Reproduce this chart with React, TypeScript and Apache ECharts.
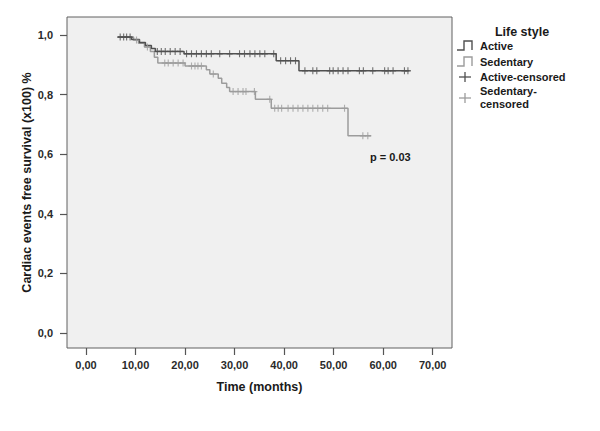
import React, { useEffect, useRef } from "react";
import * as echarts from "echarts";

// Kaplan-Meier step data (time in months, survival)
const activeTimes = [6.4, 9.2, 10.8, 12.0, 13.2, 14.0, 19.8, 38.4, 43.0, 65.3];
const activeSurv = [0.993, 0.985, 0.975, 0.965, 0.955, 0.945, 0.937, 0.914, 0.88, 0.88];
const activeCensored = [
  6.9, 7.6, 8.2, 8.9, 14.4, 15.2, 16.0, 17.0, 18.0, 19.0, 20.3, 21.3, 22.3, 23.3, 24.3, 25.3,
  27.0, 29.0, 31.0, 32.0, 33.1, 34.1, 35.1, 36.1, 37.9, 39.3, 40.3, 41.3, 42.3, 44.2, 45.8,
  46.6, 49.2, 49.9, 50.9, 51.9, 52.9, 55.2, 56.0, 57.9, 60.3, 61.0, 62.0, 64.3, 65.0,
];

const sedTimes = [6.4, 9.6, 10.6, 11.8, 13.0, 13.8, 14.5, 20.0, 24.3, 25.0, 26.7, 27.4, 28.4, 29.0, 34.2, 37.4, 52.9, 57.6];
const sedSurv = [0.993, 0.983, 0.972, 0.96, 0.945, 0.925, 0.906, 0.896, 0.883, 0.869, 0.855, 0.838, 0.824, 0.81, 0.784, 0.754, 0.662, 0.662];
const sedCensored = [
  10.2, 12.4, 15.9, 16.6, 17.6, 18.6, 19.6, 21.3, 22.0, 22.6, 23.3, 25.7, 29.7, 30.7, 31.7,
  32.3, 34.0, 37.1, 38.1, 38.8, 39.5, 40.8, 41.8, 42.8, 43.8, 44.8, 45.8, 46.8, 47.8, 48.8,
  52.2, 55.9, 56.9,
];

const xTicks = [0, 10, 20, 30, 40, 50, 60, 70];
const yTicks = [0, 0.2, 0.4, 0.6, 0.8, 1.0];

const DARK = "#505050";
const LIGHT = "#9c9c9c";
const FONT = "Liberation Sans, Arial, sans-serif";

function levelAt(times: number[], surv: number[], t: number) {
  let s = surv[0];
  for (let i = 0; i < times.length; i++) {
    if (times[i] <= t) s = surv[i];
  }
  return s;
}

const plus = "path://M5 0V10M0 5H10";

export default function App() {
  const ref = useRef<HTMLDivElement>(null);
  useEffect(() => {
    if (!ref.current) return;
    const chart = echarts.init(ref.current, null, { renderer: "svg" });
    const activeLine = activeTimes.map((t, i) => [t, activeSurv[i]]);
    const sedLine = sedTimes.map((t, i) => [t, sedSurv[i]]);
    const activeCens = activeCensored.map((t) => [t, levelAt(activeTimes, activeSurv, t)]);
    const sedCens = sedCensored.map((t) => [t, levelAt(sedTimes, sedSurv, t)]);

    const legendX = 457;
    const legendFont = `bold 11px ${FONT}`;
    chart.setOption({
      animation: false,
      backgroundColor: "#ffffff",
      textStyle: { fontFamily: FONT },
      grid: {
        left: 67,
        top: 17,
        right: 148,
        bottom: 83,
        show: true,
        backgroundColor: "#f0f0f0",
        borderColor: "#606060",
        borderWidth: 1,
      },
      xAxis: {
        type: "value",
        min: -3.84,
        max: 73.9,
        name: "Time (months)",
        nameLocation: "middle",
        nameGap: 32,
        nameMoveOverlap: false,
        nameTextStyle: { fontFamily: FONT, fontWeight: "bold", fontSize: 12.5, color: "#1a1a1a" },
        axisLine: { show: false, onZero: false },
        splitLine: { show: false },
        axisTick: {
          show: true,
          customValues: xTicks,
          length: 7,
          lineStyle: { color: "#555", width: 1.2 },
        },
        axisLabel: {
          customValues: xTicks,
          margin: 11,
          fontFamily: FONT,
          fontWeight: "bold",
          fontSize: 11,
          color: "#2a2a2a",
          formatter: (v: number) => v.toFixed(2).replace(".", ","),
        },
      },
      yAxis: {
        type: "value",
        min: -0.0503,
        max: 1.0604,
        name: "Cardiac events free survival (x100) %",
        nameLocation: "middle",
        nameGap: 34,
        nameMoveOverlap: false,
        nameTextStyle: { fontFamily: FONT, fontWeight: "bold", fontSize: 12.5, color: "#1a1a1a" },
        axisLine: { show: false, onZero: false },
        splitLine: { show: false },
        axisTick: {
          show: true,
          customValues: yTicks,
          length: 7,
          lineStyle: { color: "#555", width: 1.2 },
        },
        axisLabel: {
          customValues: yTicks,
          margin: 14,
          fontFamily: FONT,
          fontWeight: "bold",
          fontSize: 11,
          color: "#2a2a2a",
          formatter: (v: number) => v.toFixed(1).replace(".", ","),
        },
      },
      series: [
        {
          name: "Sedentary",
          type: "line",
          step: "end",
          data: sedLine,
          showSymbol: false,
          symbol: "none",
          lineStyle: { color: LIGHT, width: 1.5 },
          z: 2,
        },
        {
          name: "Active",
          type: "line",
          step: "end",
          data: activeLine,
          showSymbol: false,
          symbol: "none",
          lineStyle: { color: DARK, width: 1.5 },
          z: 3,
        },
        {
          name: "Sedentary-censored",
          type: "scatter",
          data: sedCens,
          symbol: plus,
          symbolSize: [6, 7],
          itemStyle: { color: "none", borderColor: LIGHT, borderWidth: 1.2 },
          z: 4,
        },
        {
          name: "Active-censored",
          type: "scatter",
          data: activeCens,
          symbol: plus,
          symbolSize: [6, 7],
          itemStyle: { color: "none", borderColor: DARK, borderWidth: 1.2 },
          z: 5,
        },
      ],
      graphic: [
        {
          type: "text",
          left: 370,
          top: 151,
          style: { text: "p = 0.03", font: `bold 11px ${FONT}`, fill: "#1a1a1a" },
        },
        {
          type: "text",
          x: 522,
          y: 32,
          style: {
            text: "Life style",
            font: `bold 12.5px ${FONT}`,
            fill: "#1a1a1a",
            align: "center",
            verticalAlign: "middle",
          },
        },
        {
          type: "polyline",
          shape: { points: [[legendX, 50], [legendX + 7, 50], [legendX + 7, 41], [legendX + 15, 41], [legendX + 15, 50]] },
          style: { stroke: DARK, lineWidth: 1.4, fill: "none" },
        },
        {
          type: "text",
          x: 480,
          y: 46,
          style: { text: "Active", font: legendFont, fill: "#1a1a1a", verticalAlign: "middle" },
        },
        {
          type: "polyline",
          shape: { points: [[legendX, 66], [legendX + 7, 66], [legendX + 7, 57], [legendX + 15, 57], [legendX + 15, 66]] },
          style: { stroke: LIGHT, lineWidth: 1.4, fill: "none" },
        },
        {
          type: "text",
          x: 480,
          y: 62,
          style: { text: "Sedentary", font: legendFont, fill: "#1a1a1a", verticalAlign: "middle" },
        },
        { type: "line", shape: { x1: 465, y1: 72, x2: 465, y2: 82 }, style: { stroke: DARK, lineWidth: 1.3 } },
        { type: "line", shape: { x1: 459, y1: 77, x2: 471, y2: 77 }, style: { stroke: DARK, lineWidth: 1.3 } },
        {
          type: "text",
          x: 480,
          y: 77,
          style: { text: "Active-censored", font: legendFont, fill: "#1a1a1a", verticalAlign: "middle" },
        },
        { type: "line", shape: { x1: 465, y1: 93, x2: 465, y2: 103 }, style: { stroke: LIGHT, lineWidth: 1.3 } },
        { type: "line", shape: { x1: 459, y1: 98, x2: 471, y2: 98 }, style: { stroke: LIGHT, lineWidth: 1.3 } },
        {
          type: "text",
          x: 480,
          y: 91,
          style: { text: "Sedentary-", font: legendFont, fill: "#1a1a1a", verticalAlign: "middle" },
        },
        {
          type: "text",
          x: 480,
          y: 104,
          style: { text: "censored", font: legendFont, fill: "#1a1a1a", verticalAlign: "middle" },
        },
      ],
    });
    return () => chart.dispose();
  }, []);
  return <div ref={ref} style={{ width: 600, height: 431, margin: "-8px" }} />;
}
